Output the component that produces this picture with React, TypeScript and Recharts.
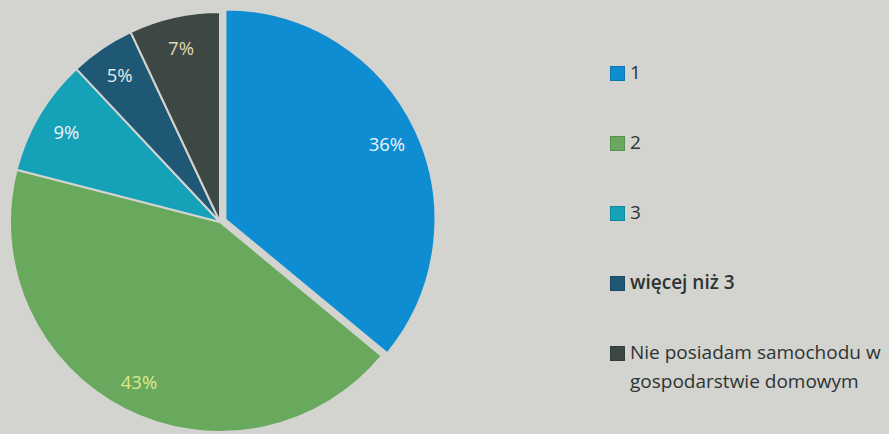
import React from "react";
import { PieChart, Pie, Cell, Legend } from "recharts";

const categories = ["1", "2", "3", "więcej niż 3", "Nie posiadam samochodu w gospodarstwie domowym"];
const values = [36, 43, 9, 5, 7];
const colors = ["#0e8dd2", "#69a95e", "#15a2b9", "#1f5875", "#3d4845"];
const labelColors = ["#eef4f6", "#dfe98c", "#eef4f6", "#e6ecee", "#e0d9b0"];
const legendLabels = ["1", "2", "3", "więcej niż 3", "Nie posiadam samochodu w\ngospodarstwie domowym"];

const data = categories.map((name, i) => ({ name, value: values[i] }));

const BG = "#d3d4cf";
const RAD = Math.PI / 180;
const CX = 220;
const CY = 222;
const R = 210;
const EXPLODE = 6;
const FONT = "'Open Sans', sans-serif";

const makeLabel = (only: (i: number) => boolean) => (props: any) => {
  const { cx, cy, midAngle, outerRadius, index, value } = props;
  if (!only(index)) return null;
  const r = outerRadius * 0.85;
  const x = cx + r * Math.cos(-midAngle * RAD);
  const y = cy + r * Math.sin(-midAngle * RAD);
  return (
    <text x={x} y={y} fill={labelColors[index]} textAnchor="middle" dominantBaseline="central"
      style={{ fontFamily: FONT, fontSize: 18.5 }}>
      {`${value}%`}
    </text>
  );
};

const midBlue = (values[0] / 2 / 100) * 360; // degrees clockwise from top
const exDx = EXPLODE * Math.sin(midBlue * RAD);
const exDy = -EXPLODE * Math.cos(midBlue * RAD);

const LegendContent = () => (
  <div style={{ fontFamily: FONT, fontSize: 19, color: "#2e3333" }}>
    {legendLabels.map((l, i) => {
      const lines = l.split("\n");
      return (
        <div key={i} style={{ position: "absolute", left: 0, top: [0, 70, 140, 210, 280][i], display: "flex", alignItems: "flex-start" }}>
          <div style={{ width: 13, height: 13, background: colors[i], marginTop: 7, marginRight: 5, border: "1px solid rgba(0,0,0,0.15)" }} />
          <div style={{ lineHeight: "29px", marginTop: -1, fontWeight: i === 3 ? 600 : 400, whiteSpace: "nowrap" }}>
            {lines.map((ln, j) => <div key={j}>{ln}</div>)}
          </div>
        </div>
      );
    })}
  </div>
);

export default function App() {
  return (
    <div style={{ position: "fixed", left: 0, top: 0, width: 889, height: 434, background: BG, overflow: "hidden" }}>
      <PieChart width={889} height={434} margin={{ top: 0, right: 0, bottom: 0, left: 0 }}>
        <Pie data={data} dataKey="value" nameKey="name" cx={CX} cy={CY} outerRadius={R}
          startAngle={90} endAngle={-270} isAnimationActive={false} labelLine={false}
          stroke={BG} strokeWidth={2} label={makeLabel((i) => i !== 0)}>
          {data.map((d, i) => (
            <Cell key={i} fill={i === 0 ? "none" : colors[i]} stroke={i === 0 ? "none" : BG} />
          ))}
        </Pie>
        <Pie data={data} dataKey="value" nameKey="name" cx={CX + exDx} cy={CY + exDy} outerRadius={R}
          startAngle={90} endAngle={-270} isAnimationActive={false} labelLine={false}
          stroke={BG} strokeWidth={2} label={makeLabel((i) => i === 0)}>
          {data.map((d, i) => (
            <Cell key={i} fill={i === 0 ? colors[0] : "none"} stroke={i === 0 ? BG : "none"} />
          ))}
        </Pie>
        <Legend content={<LegendContent />} wrapperStyle={{ position: "absolute", left: 610, top: 59, width: 279, height: 320 }} />
      </PieChart>
    </div>
  );
}
